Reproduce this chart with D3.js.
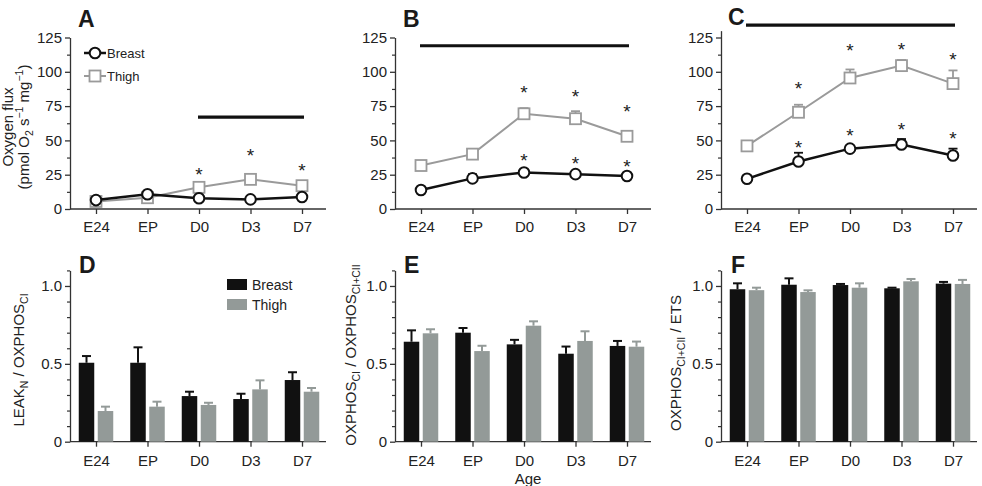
<!DOCTYPE html>
<html>
<head>
<meta charset="utf-8">
<script src="https://cdn.jsdelivr.net/npm/d3@7"></script>
<style>
  body { margin: 0; background: #fff; }
  svg { display: block; font-family: "Liberation Sans", Arial, sans-serif; }
</style>
</head>
<body>
<svg id="chart" width="982" height="486"></svg>
<script>
const ages = ["E24", "EP", "D0", "D3", "D7"]

// top row: oxygen flux (pmol O2 s-1 mg-1)
const breastA = [6.5, 10.7, 7.8, 7.0, 8.7]
const breastAErr = [0.6, 1.0, 0.6, 0.6, 0.8]
const thighA = [5.5, 8.2, 15.8, 21.6, 17.0]
const thighAErr = [0.5, 1.0, 1.5, 1.6, 1.5]
const breastAStar = [null, null, null, null, null]
const thighAStar = [null, null, 27.6, 41.4, 30.5]
const sigA = ["D0", "D7", 67]

const breastB = [13.8, 22.3, 26.6, 25.4, 24.0]
const breastBErr = [0.8, 3.1, 1.2, 1.2, 1.0]
const thighB = [31.7, 40.0, 69.4, 65.8, 53.0]
const thighBErr = [1.5, 1.5, 4.1, 5.5, 3.0]
const breastBStar = [null, null, 37.7, 35.6, 33.4]
const thighBStar = [null, null, 87.1, 84.9, 73.3]
const sigB = ["E24", "D7", 119]

const breastC = [22.0, 34.6, 44.0, 47.0, 39.0]
const breastCErr = [1.0, 6.4, 1.5, 4.0, 5.0]
const thighC = [46.0, 70.5, 95.5, 104.5, 91.4]
const thighCErr = [1.5, 5.5, 6.2, 4.1, 9.6]
const breastCStar = [null, 47.7, 56.1, 60.6, 53.8]
const thighCStar = [null, 90.2, 118.2, 118.9, 111.4]
const sigC = ["E24", "D7", 134]

// bottom row: flux control ratios
const breastD = [0.507, 0.507, 0.293, 0.274, 0.396]
const breastDErr = [0.043, 0.099, 0.028, 0.034, 0.050]
const thighD = [0.197, 0.225, 0.236, 0.336, 0.321]
const thighDErr = [0.028, 0.032, 0.014, 0.058, 0.024]

const breastE = [0.642, 0.700, 0.625, 0.565, 0.615]
const breastEErr = [0.073, 0.030, 0.029, 0.046, 0.032]
const thighE = [0.696, 0.582, 0.745, 0.647, 0.610]
const thighEErr = [0.026, 0.034, 0.028, 0.062, 0.033]

const breastF = [0.979, 1.008, 1.006, 0.985, 1.015]
const breastFErr = [0.038, 0.041, 0.007, 0.004, 0.011]
const thighF = [0.973, 0.961, 0.989, 1.030, 1.013]
const thighFErr = [0.016, 0.011, 0.028, 0.015, 0.026]

const fluxTicks = [0, 25, 50, 75, 100, 125]
const ratioTicks = [0, 0.5, 1.0]

const svg = d3.select("#chart")
const axisCol = "#333", textCol = "#222"
const blackCol = "#111", greyLine = "#9a9a9a", greyBar = "#939a98"

const panelX = [70, 395, 721]
const topY0 = 209, topY1 = 37.5
const botY0 = 441.7, botY1 = 270.4

function drawAxes(g, x, y, x0, y0, majors, minors, fmt, labelPad) {
  // x axis line + ticks
  g.append("line").attr("x1", x0).attr("x2", x0 + 256).attr("y1", y0).attr("y2", y0)
    .attr("stroke", axisCol).attr("stroke-width", 1.3)
  const xa = g.append("g").attr("transform", `translate(0,${y0})`)
    .call(d3.axisBottom(x).tickSize(5).tickSizeOuter(0).tickPadding(labelPad))
  xa.select(".domain").remove()
  xa.selectAll("line").attr("stroke", axisCol).attr("stroke-width", 1.3)
  xa.selectAll("text").attr("font-size", 15).attr("fill", textCol).attr("font-family", null)

  const ym = g.append("g").attr("transform", `translate(${x0},0)`)
    .call(d3.axisLeft(y).tickValues(minors).tickSize(3).tickFormat(""))
  ym.select(".domain").remove()
  ym.selectAll("text").remove()
  ym.selectAll("line").attr("stroke", axisCol).attr("stroke-width", 1.2)

  const ya = g.append("g").attr("transform", `translate(${x0},0)`)
    .call(d3.axisLeft(y).tickValues(majors).tickSize(5).tickSizeOuter(0).tickPadding(3).tickFormat(fmt))
  ya.select(".domain").attr("stroke", axisCol).attr("stroke-width", 1.3)
  ya.selectAll("line").attr("stroke", axisCol).attr("stroke-width", 1.3)
  ya.selectAll("text").attr("font-size", 15).attr("fill", textCol).attr("font-family", null)
}

function linePanel(i, yMax, breast, breastErr, thigh, thighErr, breastStar, thighStar, sig, letter, letterY) {
  const x0 = panelX[i]
  const g = svg.append("g")
  const x = d3.scalePoint().domain(ages).range([x0 + 26, x0 + 232])
  const y = d3.scaleLinear().domain([0, yMax]).range([topY0, topY0 - (topY0 - topY1) * yMax / 125])
  const minors = d3.range(12.5, yMax, 25)
  drawAxes(g, x, y, x0, topY0, fluxTicks, minors, d3.format("d"), 7)

  const series = [
    { v: thigh, e: thighErr, col: greyLine, w: 2, shape: "sq" },
    { v: breast, e: breastErr, col: blackCol, w: 2.5, shape: "ci" }
  ]
  const line = d3.line().x((d, k) => x(ages[k])).y(d => y(d))
  series.forEach(s => {
    // upward error bars
    const eb = g.append("g")
    s.v.forEach((d, k) => {
      const cx = x(ages[k]), top = y(d + s.e[k])
      eb.append("line").attr("x1", cx).attr("x2", cx).attr("y1", y(d)).attr("y2", top)
        .attr("stroke", s.col).attr("stroke-width", 1.8)
      eb.append("line").attr("x1", cx - 4.5).attr("x2", cx + 4.5).attr("y1", top).attr("y2", top)
        .attr("stroke", s.col).attr("stroke-width", 1.8)
    })
  })
  series.forEach(s => {
    g.append("path").datum(s.v).attr("d", line).attr("fill", "none")
      .attr("stroke", s.col).attr("stroke-width", s.w)
    if (s.shape === "sq") {
      g.selectAll(null).data(s.v).enter().append("rect")
        .attr("x", (d, k) => x(ages[k]) - 5.5).attr("y", d => y(d) - 5.5)
        .attr("width", 11).attr("height", 11)
        .attr("fill", "#fff").attr("stroke", s.col).attr("stroke-width", 1.8)
    } else {
      g.selectAll(null).data(s.v).enter().append("circle")
        .attr("cx", (d, k) => x(ages[k])).attr("cy", d => y(d)).attr("r", 5.3)
        .attr("fill", "#fff").attr("stroke", s.col).attr("stroke-width", 2)
    }
  })

  ;[breastStar, thighStar].forEach(st => {
    st.forEach((d, k) => {
      if (d == null) return
      g.append("text").attr("x", x(ages[k])).attr("y", y(d) + 10)
        .attr("text-anchor", "middle").attr("font-size", 19).attr("fill", textCol).text("*")
    })
  })

  g.append("line").attr("x1", x(sig[0]) - 1).attr("x2", x(sig[1]) + 2)
    .attr("y1", y(sig[2])).attr("y2", y(sig[2]))
    .attr("stroke", blackCol).attr("stroke-width", 3.2)

  g.append("text").attr("x", x0 + (i === 2 ? 7 : 8)).attr("y", letterY)
    .attr("font-size", 23).attr("font-weight", "bold").attr("fill", "#1a1a1a").text(letter)
  return g
}

function barPanel(i, breast, breastErr, thigh, thighErr, letter) {
  const x0 = panelX[i]
  const g = svg.append("g")
  const x = d3.scalePoint().domain(ages).range([x0 + 26, x0 + 232])
  const y = d3.scaleLinear().domain([0, 1.1]).range([botY0, botY1])
  const minors = [0.1, 0.2, 0.3, 0.4, 0.6, 0.7, 0.8, 0.9, 1.1]
  drawAxes(g, x, y, x0, botY0, ratioTicks, minors, d => d === 0 ? "0" : d3.format(".1f")(d), 9)

  const bw = 15.5
  const series = [
    { v: breast, e: breastErr, col: blackCol, dx: -9.5 },
    { v: thigh, e: thighErr, col: greyBar, dx: 9.5 }
  ]
  series.forEach(s => {
    s.v.forEach((d, k) => {
      const cx = x(ages[k]) + s.dx, top = y(d + s.e[k])
      g.append("line").attr("x1", cx).attr("x2", cx).attr("y1", y(d)).attr("y2", top)
        .attr("stroke", s.col).attr("stroke-width", 2)
      g.append("line").attr("x1", cx - 4.5).attr("x2", cx + 4.5).attr("y1", top).attr("y2", top)
        .attr("stroke", s.col).attr("stroke-width", 2)
    })
    g.selectAll(null).data(s.v).enter().append("rect")
      .attr("x", (d, k) => x(ages[k]) + s.dx - bw / 2).attr("y", d => y(d))
      .attr("width", bw).attr("height", d => botY0 - y(d)).attr("fill", s.col)
  })

  g.append("text").attr("x", x0 + (i === 2 ? 10 : 9)).attr("y", 273)
    .attr("font-size", 23).attr("font-weight", "bold").attr("fill", "#1a1a1a").text(letter)
  return g
}

linePanel(0, 125, breastA, breastAErr, thighA, thighAErr, breastAStar, thighAStar, sigA, "A", 27)
linePanel(1, 125, breastB, breastBErr, thighB, thighBErr, breastBStar, thighBStar, sigB, "B", 27)
linePanel(2, 130, breastC, breastCErr, thighC, thighCErr, breastCStar, thighCStar, sigC, "C", 25)
barPanel(0, breastD, breastDErr, thighD, thighDErr, "D")
barPanel(1, breastE, breastEErr, thighE, thighEErr, "E")
barPanel(2, breastF, breastFErr, thighF, thighFErr, "F")

// legend A
const legA = svg.append("g")
legA.append("line").attr("x1", 84).attr("x2", 106).attr("y1", 53).attr("y2", 53).attr("stroke", blackCol).attr("stroke-width", 2.5)
legA.append("circle").attr("cx", 95).attr("cy", 53).attr("r", 5.3).attr("fill", "#fff").attr("stroke", blackCol).attr("stroke-width", 2)
legA.append("text").attr("x", 107).attr("y", 57.5).attr("font-size", 13).attr("fill", textCol).text("Breast")
legA.append("line").attr("x1", 84).attr("x2", 106).attr("y1", 76).attr("y2", 76).attr("stroke", greyLine).attr("stroke-width", 2)
legA.append("rect").attr("x", 89.5).attr("y", 70.5).attr("width", 11).attr("height", 11).attr("fill", "#fff").attr("stroke", greyLine).attr("stroke-width", 1.8)
legA.append("text").attr("x", 107).attr("y", 80.5).attr("font-size", 13).attr("fill", textCol).text("Thigh")

// legend D
const legD = svg.append("g")
legD.append("rect").attr("x", 227).attr("y", 279).attr("width", 20).attr("height", 11).attr("fill", blackCol)
legD.append("text").attr("x", 252).attr("y", 290).attr("font-size", 14).attr("fill", textCol).text("Breast")
legD.append("rect").attr("x", 227).attr("y", 299).attr("width", 20).attr("height", 11).attr("fill", greyBar)
legD.append("text").attr("x", 252).attr("y", 310).attr("font-size", 14).attr("fill", textCol).text("Thigh")

// y titles; sub/sup parts shift, the following plain part shifts back
function yTitle(cx, cy, parts) {
  const t = svg.append("text").attr("transform", `translate(${cx},${cy}) rotate(-90)`)
    .attr("text-anchor", "middle").attr("font-size", 15).attr("fill", textCol)
  let back = 0
  parts.forEach(p => {
    if (typeof p === "string") {
      t.append("tspan").attr("dy", back).text(p)
      back = 0
      return
    }
    const shift = p.sub ? 4 : -6
    t.append("tspan").attr("dy", shift - back).attr("font-size", 10.5).text(p.sub || p.sup)
    back = -shift
  })
}
yTitle(13, 127, ["Oxygen flux"])
yTitle(29, 127, ["(pmol O", { sub: "2" }, " s", { sup: "\u22121" }, " mg", { sup: "\u22121" }, ")"])
yTitle(24, 360, ["LEAK", { sub: "N" }, " / OXPHOS", { sub: "CI" }])
yTitle(356, 355, ["OXPHOS", { sub: "CI" }, " / OXPHOS", { sub: "CI+CII" }])
yTitle(681, 363, ["OXPHOS", { sub: "CI+CII" }, " / ETS"])

svg.append("text").attr("x", 528).attr("y", 484).attr("text-anchor", "middle")
  .attr("font-size", 15).attr("fill", textCol).text("Age")
</script>
</body>
</html>
